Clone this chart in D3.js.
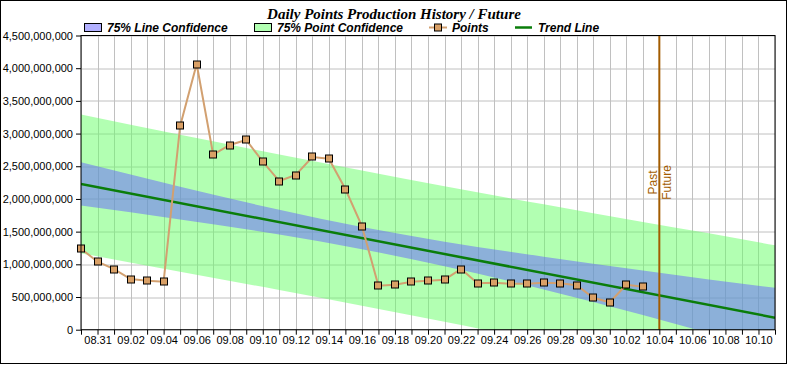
<!DOCTYPE html>
<html>
<head>
<meta charset="utf-8">
<script src="https://cdn.jsdelivr.net/npm/d3@7"></script>
<style>
    body { margin: 0; background: #fff; }
    svg { display: block; }
    .tick text { font-family: "Liberation Sans", Arial, sans-serif; font-size: 11px; fill: #000; }
</style>
</head>
<body>
<div id="chart"></div>
<script>
// =============================================================================
// data
// =============================================================================
var year = 2024;

// daily points (history)
var pointDates = [
    "08-30", "08-31", "09-01", "09-02", "09-03", "09-04", "09-05", "09-06",
    "09-07", "09-08", "09-09", "09-10", "09-11", "09-12", "09-13", "09-14",
    "09-15", "09-16", "09-17", "09-18", "09-19", "09-20", "09-21", "09-22",
    "09-23", "09-24", "09-25", "09-26", "09-27", "09-28", "09-29", "09-30",
    "10-01", "10-02", "10-03"
];
var pointValues = [
    1239e6, 1040e6, 928e6, 775e6, 750e6, 734e6, 3116e6, 4064e6,
    2677e6, 2825e6, 2902e6, 2570e6, 2274e6, 2366e6, 2642e6, 2616e6,
    2152e6, 1586e6, 673e6, 688e6, 734e6, 750e6, 765e6, 928e6,
    710e6, 719e6, 704e6, 704e6, 719e6, 710e6, 679e6, 489e6,
    419e6, 688e6, 658e6
];

// trend line
var trendDates = ["08-30", "10-11"];
var trendValues = [2229e6, 184e6];

// confidence bands, read at a few dates
var bandDates = ["08-30", "09-05", "09-11", "09-16", "09-21", "09-27", "10-03", "10-07", "10-11"];
var lineHigh  = [2560e6, 2187e6, 1834e6, 1570e6, 1347e6, 1116e6, 905e6, 769e6, 640e6];
var lineLow   = [1898e6, 1687e6, 1456e6, 1232e6, 969e6, 616e6, 225e6, -50e6, -300e6];
var pointHigh = [3290e6, 2980e6, 2680e6, 2436e6, 2196e6, 1917e6, 1648e6, 1474e6, 1290e6];
var pointLow  = [1170e6, 886e6, 607e6, 366e6, 120e6, -185e6, -500e6, -716e6, -935e6];

// axis
var xStart = "08-30";
var xEnd = "10-11";
var pastFutureDate = "10-04";
var yTicks = [0, 500e6, 1000e6, 1500e6, 2000e6, 2500e6, 3000e6, 3500e6, 4000e6, 4500e6];

var legendItems = ["75% Line Confidence", "75% Point Confidence", "Points", "Trend Line"];

// =============================================================================
// globals
// =============================================================================
var width = 790, height = 365;
var _margin = { top: 35.5, right: 15, bottom: 35.3, left: 81 };
var _plotWidth = width - _margin.left - _margin.right,
    _plotHeight = height - _margin.top - _margin.bottom;

var colLine = "rgba(102,98,255,0.5)";
var colPoint = "rgba(102,255,102,0.5)";
var colPoints = "#d2a070";
var colMarker = "#d9a066";
var colTrend = "#0a7d0a";
var colPast = "#a35c00";

function parseDate(s) {
    return new Date(Date.UTC(year, +s.slice(0, 2) - 1, +s.slice(3, 5)));
}

var svg = d3.select("#chart").append("svg")
    .attr("width", width)
    .attr("height", height);

// outer frame
svg.append("rect")
    .attr("x", 0.5).attr("y", 0.5)
    .attr("width", 786).attr("height", 363)
    .attr("fill", "#fff")
    .attr("stroke", "#000");

// title
svg.append("text")
    .attr("x", 394)
    .attr("y", 19)
    .attr("text-anchor", "middle")
    .style("font-family", "'Liberation Serif', 'Times New Roman', serif")
    .style("font-size", "15px")
    .style("font-weight", "bold")
    .style("font-style", "italic")
    .text("Daily Points Production History / Future");

var plot = svg.append("g")
    .attr("transform", "translate(" + _margin.left + "," + _margin.top + ")");

// scales ======================================================================
var x = d3.scaleUtc()
    .domain([parseDate(xStart), parseDate(xEnd)])
    .range([0, _plotWidth]);

var y = d3.scaleLinear()
    .domain([0, 4500e6])
    .range([_plotHeight, 0]);

var days = d3.utcDay.range(parseDate(xStart), d3.utcDay.offset(parseDate(xEnd), 1));

// grid ========================================================================
plot.append("g")
    .selectAll("line")
    .data(days)
    .join("line")
    .attr("x1", function (d) { return Math.round(x(d)) + 0.5; })
    .attr("x2", function (d) { return Math.round(x(d)) + 0.5; })
    .attr("y1", 0)
    .attr("y2", _plotHeight)
    .attr("stroke", "#c0c0c0");

plot.append("g")
    .selectAll("line")
    .data(yTicks)
    .join("line")
    .attr("x1", 0)
    .attr("x2", _plotWidth)
    .attr("y1", function (d) { return Math.round(y(d)) + 0.5; })
    .attr("y2", function (d) { return Math.round(y(d)) + 0.5; })
    .attr("stroke", "#c0c0c0");

// bands =======================================================================
svg.append("clipPath")
    .attr("id", "plotClip")
    .append("rect")
    .attr("width", _plotWidth)
    .attr("height", _plotHeight);

var bands = plot.append("g").attr("clip-path", "url(#plotClip)");

function bandArea(lo, hi) {
    return d3.area()
        .curve(d3.curveMonotoneX)
        .x(function (d, i) { return x(parseDate(d)); })
        .y0(function (d, i) { return y(lo[i]); })
        .y1(function (d, i) { return y(hi[i]); });
}

bands.append("path")
    .datum(bandDates)
    .attr("fill", colPoint)
    .attr("d", bandArea(pointLow, pointHigh));

bands.append("path")
    .datum(bandDates)
    .attr("fill", colLine)
    .attr("d", bandArea(lineLow, lineHigh));

// trend line
bands.append("path")
    .datum(trendDates)
    .attr("fill", "none")
    .attr("stroke", colTrend)
    .attr("stroke-width", 2.5)
    .attr("d", d3.line()
        .x(function (d) { return x(parseDate(d)); })
        .y(function (d, i) { return y(trendValues[i]); }));

// points ======================================================================
plot.append("path")
    .datum(pointDates)
    .attr("fill", "none")
    .attr("stroke", colPoints)
    .attr("stroke-width", 2)
    .attr("d", d3.line()
        .x(function (d) { return x(parseDate(d)); })
        .y(function (d, i) { return y(pointValues[i]); }));

plot.append("g")
    .selectAll("rect")
    .data(pointDates)
    .join("rect")
    .attr("x", function (d) { return Math.round(x(parseDate(d))) - 3.5; })
    .attr("y", function (d, i) { return Math.round(y(pointValues[i])) - 3.5; })
    .attr("width", 7)
    .attr("height", 7)
    .attr("fill", colMarker)
    .attr("stroke", "#000");

// past / future ===============================================================
var xPast = x(parseDate(pastFutureDate));
plot.append("line")
    .attr("x1", xPast).attr("x2", xPast)
    .attr("y1", 0).attr("y2", _plotHeight)
    .attr("stroke", colPast)
    .attr("stroke-width", 2);

[["Past", -2.5], ["Future", 11.5]].forEach(function (t) {
    plot.append("text")
        .attr("transform", "translate(" + (xPast + t[1]) + "," + (182.5 - _margin.top) + ") rotate(-90)")
        .attr("text-anchor", "middle")
        .attr("fill", colPast)
        .style("font-family", "'Liberation Sans', Arial, sans-serif")
        .style("font-size", "12px")
        .text(t[0]);
});

// axes ========================================================================
plot.append("g")
    .attr("transform", "translate(0," + _plotHeight + ")")
    .call(d3.axisBottom(x)
        .tickValues(days)
        .tickSize(5)
        .tickPadding(2)
        .tickFormat(function (d, i) { return i % 2 === 1 ? d3.utcFormat("%m.%d")(d) : ""; }))
    .call(function (g) { g.select(".domain").remove(); });

plot.append("g")
    .call(d3.axisLeft(y)
        .tickValues(yTicks)
        .tickSize(5)
        .tickPadding(3)
        .tickFormat(d3.format(",")))
    .call(function (g) { g.select(".domain").remove(); });

// plot frame
plot.append("rect")
    .attr("x", 0).attr("y", 0)
    .attr("width", _plotWidth)
    .attr("height", _plotHeight)
    .attr("fill", "none")
    .attr("stroke", "#000");

// legend ======================================================================
var legend = svg.append("g")
    .style("font-family", "'Liberation Sans', Arial, sans-serif")
    .style("font-size", "12px")
    .style("font-weight", "bold")
    .style("font-style", "italic");

var legendX = [84, 254, 429, 515];
var legendY = 27.5;

legend.append("rect")
    .attr("x", legendX[0] + 0.5).attr("y", legendY - 4)
    .attr("width", 17).attr("height", 8)
    .attr("fill", colLine).attr("stroke", "#000");

legend.append("rect")
    .attr("x", legendX[1] + 0.5).attr("y", legendY - 4)
    .attr("width", 17).attr("height", 8)
    .attr("fill", colPoint).attr("stroke", "#000");

legend.append("line")
    .attr("x1", legendX[2]).attr("x2", legendX[2] + 18)
    .attr("y1", legendY).attr("y2", legendY)
    .attr("stroke", colPoints).attr("stroke-width", 2);
legend.append("rect")
    .attr("x", legendX[2] + 5.5).attr("y", legendY - 3.5)
    .attr("width", 7).attr("height", 7)
    .attr("fill", colMarker).attr("stroke", "#000");

legend.append("line")
    .attr("x1", legendX[3]).attr("x2", legendX[3] + 17)
    .attr("y1", legendY).attr("y2", legendY)
    .attr("stroke", colTrend).attr("stroke-width", 2.5);

legend.selectAll("text.lg")
    .data(legendItems)
    .join("text")
    .attr("class", "lg")
    .attr("x", function (d, i) { return legendX[i] + 23; })
    .attr("y", legendY + 4)
    .text(function (d) { return d; });
</script>
</body>
</html>
